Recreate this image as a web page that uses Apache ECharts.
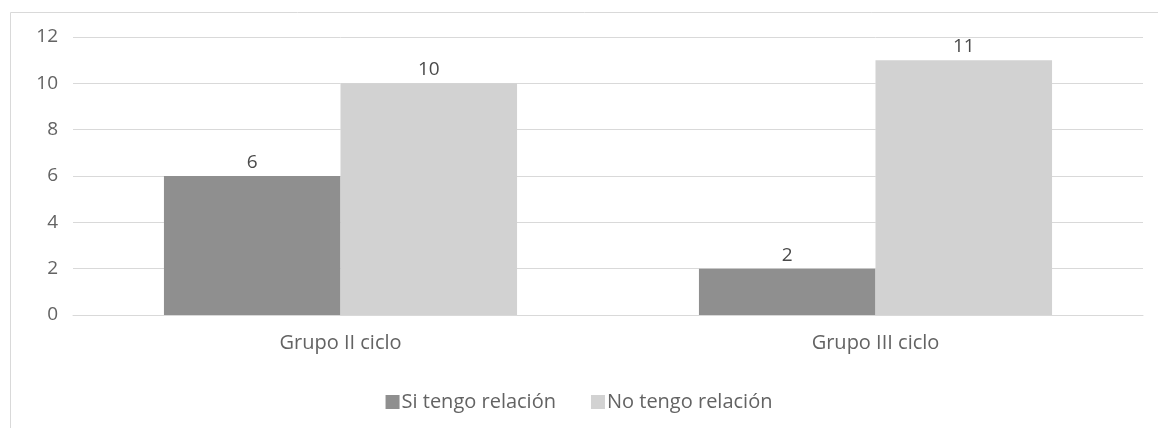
<!DOCTYPE html>
<html>
<head>
<meta charset="utf-8">
<script src="https://cdn.jsdelivr.net/npm/echarts@6/dist/echarts.min.js"></script>
<style>
html, body { margin: 0; padding: 0; background: #fff; }
#main { width: 1158px; height: 428px; }
</style>
</head>
<body>
<div id="main"></div>
<script>
var categories = ['Grupo II ciclo', 'Grupo III ciclo'];
var siTengo = [6, 2];
var noTengo = [10, 11];
var seriesNames = ['Si tengo relación', 'No tengo relación'];

window.onload = function() {
    var font = '"Open Sans", "Noto Sans", sans-serif';
    var option = {
        animation: false,
        color: ['#8f8f8f', '#d2d2d2'],
        textStyle: { fontFamily: font },
        graphic: [{
            type: 'rect',
            shape: { x: 10.5, y: 12.5, width: 1300, height: 600 },
            style: { fill: 'none', stroke: '#d9d9d9', lineWidth: 1 },
            silent: true
        }],
        grid: {
            left: 73,
            right: 15,
            top: 37,
            bottom: 113
        },
        legend: {
            data: seriesNames,
            top: 387,
            left: 'center',
            itemWidth: 14,
            itemHeight: 14,
            itemGap: 35,
            icon: 'rect',
            textStyle: { color: '#636363', fontSize: 20, fontFamily: font, padding: [0, 0, 0, -3] }
        },
        xAxis: {
            type: 'category',
            data: categories,
            axisLine: { lineStyle: { color: '#d9d9d9' } },
            axisTick: { show: false },
            axisLabel: { color: '#636363', fontSize: 20, margin: 18, fontFamily: font }
        },
        yAxis: {
            type: 'value',
            min: 0,
            max: 12,
            interval: 2,
            axisLine: { show: false },
            axisTick: { show: false },
            splitLine: { lineStyle: { color: '#d9d9d9' } },
            axisLabel: { color: '#636363', fontSize: 19, margin: 15, fontFamily: font }
        },
        series: [{
            name: seriesNames[0],
            type: 'bar',
            data: siTengo,
            barGap: '0%',
            barCategoryGap: '34%',
            label: { show: true, position: 'top', distance: 4, color: '#4a4a4a', fontSize: 19, fontFamily: font }
        }, {
            name: seriesNames[1],
            type: 'bar',
            data: noTengo,
            label: { show: true, position: 'top', distance: 4, color: '#4a4a4a', fontSize: 19, fontFamily: font }
        }]
    };
    var myChart = echarts.init(document.getElementById('main'));
    myChart.setOption(option);
};
</script>
</body>
</html>
